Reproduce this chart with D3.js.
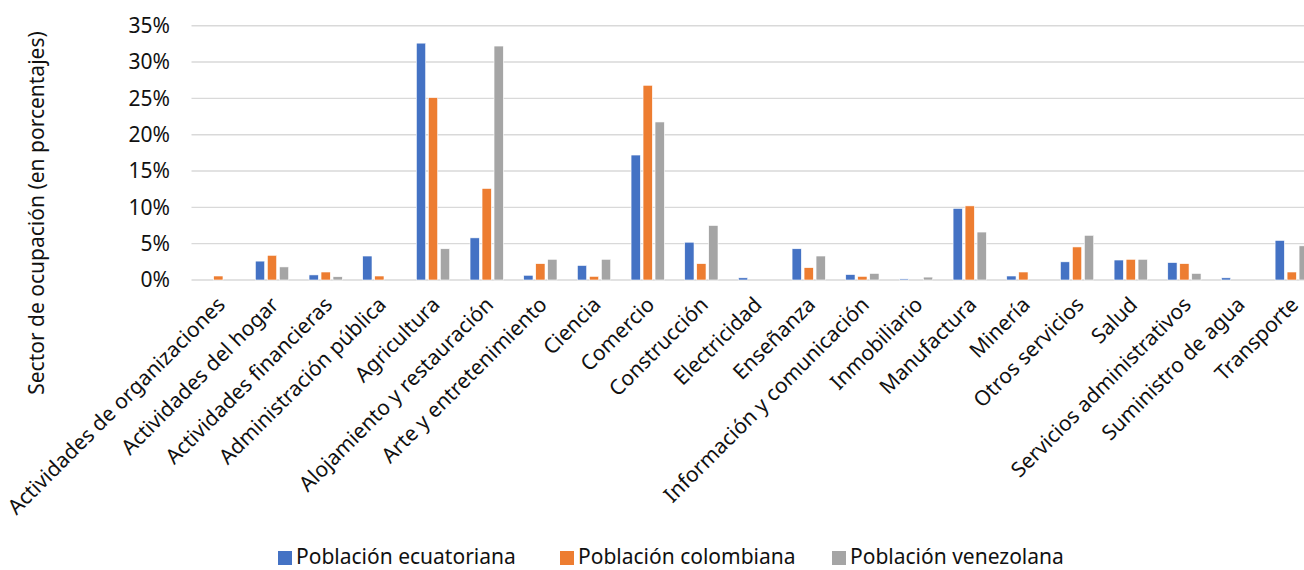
<!DOCTYPE html>
<html>
<head>
<meta charset="utf-8">
<script src="https://cdn.jsdelivr.net/npm/d3@7"></script>
<style>
  html, body { margin: 0; padding: 0; background: #fff; overflow: hidden; }
  svg { display: block; font-family: "Noto Sans", "Open Sans", sans-serif; }
</style>
</head>
<body>
<svg id="chart" width="1304" height="570"></svg>
<script>
// Sectores de ocupación
const categories = [
  "Actividades de organizaciones", "Actividades del hogar", "Actividades financieras",
  "Administración pública", "Agricultura", "Alojamiento y restauración",
  "Arte y entretenimiento", "Ciencia", "Comercio", "Construcción", "Electricidad",
  "Enseñanza", "Información y comunicación", "Inmobiliario", "Manufactura", "Minería",
  "Otros servicios", "Salud", "Servicios administrativos", "Suministro de agua", "Transporte"
];

const seriesNames = ["Población ecuatoriana", "Población colombiana", "Población venezolana"];

// Porcentaje de ocupados por sector
const ecuatoriana = [0, 2.6, 0.7, 3.3, 32.6, 5.8, 0.65, 2.0, 17.2, 5.2, 0.3, 4.3, 0.75, 0.15, 9.85, 0.55, 2.5, 2.75, 2.4, 0.3, 5.45];
const colombiana  = [0.55, 3.4, 1.1, 0.55, 25.1, 12.6, 2.25, 0.5, 26.8, 2.25, 0, 1.7, 0.5, 0, 10.2, 1.1, 4.55, 2.85, 2.25, 0, 1.1];
const venezolana  = [0, 1.8, 0.45, 0, 4.3, 32.2, 2.85, 2.85, 21.75, 7.5, 0, 3.3, 0.9, 0.4, 6.6, 0, 6.15, 2.85, 0.9, 0, 4.7];

const yTicks = [0, 5, 10, 15, 20, 25, 30, 35];
const colors = ["#4472C4", "#ED7D31", "#A5A5A5"];

const series = [ecuatoriana, colombiana, venezolana];

const FONT = 21;
const TEXT = "#111";

const svg = d3.select("#chart");
const margin = { left: 191.5, top: 25.7, bottom: 280 };
const bandWidth = 53.67;
const plotRight = margin.left + bandWidth * categories.length;

const x = d3.scaleBand()
  .domain(categories)
  .range([margin.left, plotRight])
  .paddingInner(0.38)
  .paddingOuter(0.19);

const xs = d3.scaleBand()
  .domain(d3.range(series.length))
  .range([0, x.bandwidth()])
  .paddingInner(0.225);

const y = d3.scaleLinear().domain([0, 35]).range([margin.bottom, margin.top]);

// Líneas de cuadrícula
svg.append("g")
  .selectAll("line")
  .data(yTicks)
  .join("line")
  .attr("x1", margin.left)
  .attr("x2", plotRight)
  .attr("y1", d => y(d))
  .attr("y2", d => y(d))
  .attr("stroke", "#D9D9D9")
  .attr("stroke-width", 1.4);

// Eje Y
const yAxis = d3.axisLeft(y)
  .tickValues(yTicks)
  .tickFormat(d => d + "%")
  .tickSize(0)
  .tickPadding(0);

svg.append("g")
  .attr("transform", `translate(170,0)`)
  .call(yAxis)
  .call(g => g.select(".domain").remove())
  .call(g => g.selectAll("text")
    .attr("font-size", FONT)
    .attr("font-family", "Noto Sans, sans-serif")
    .attr("fill", TEXT));

// Barras
const groups = svg.append("g")
  .selectAll("g")
  .data(categories)
  .join("g")
  .attr("transform", d => `translate(${x(d)},0)`);

groups.selectAll("rect")
  .data((d, i) => series.map((s, k) => ({ k, v: s[i] })))
  .join("rect")
  .attr("x", d => xs(d.k))
  .attr("width", xs.bandwidth())
  .attr("y", d => y(d.v))
  .attr("height", d => y(0) - y(d.v))
  .attr("fill", d => colors[d.k])
  .attr("stroke", "#fff")
  .attr("stroke-width", 0.6);

// Etiquetas de categorías
const xAxis = d3.axisBottom(x).tickSize(0).tickPadding(0);
svg.append("g")
  .attr("transform", `translate(0,${margin.bottom})`)
  .call(xAxis)
  .call(g => g.select(".domain").remove())
  .call(g => g.selectAll("text")
    .attr("font-size", FONT)
    .attr("font-family", "Noto Sans, sans-serif")
    .attr("fill", TEXT)
    .attr("text-anchor", "end")
    .attr("dy", "0")
    .attr("y", 0)
    .attr("transform", "translate(8,26) rotate(-45)"));

// Título del eje Y
svg.append("text")
  .attr("transform", "translate(44,213) rotate(-90)")
  .attr("text-anchor", "middle")
  .attr("font-size", FONT)
  .attr("fill", TEXT)
  .text("Sector de ocupación (en porcentajes)");

// Leyenda
const legendX = [278, 560, 832];
const legend = svg.append("g")
  .selectAll("g")
  .data(seriesNames)
  .join("g")
  .attr("transform", (d, i) => `translate(${legendX[i]},564)`);

legend.append("rect")
  .attr("x", 0).attr("y", -13)
  .attr("width", 14).attr("height", 14)
  .attr("fill", (d, i) => colors[i]);

legend.append("text")
  .attr("x", 18)
  .attr("y", 0)
  .attr("font-size", FONT)
  .attr("fill", TEXT)
  .text(d => d);
</script>
</body>
</html>
